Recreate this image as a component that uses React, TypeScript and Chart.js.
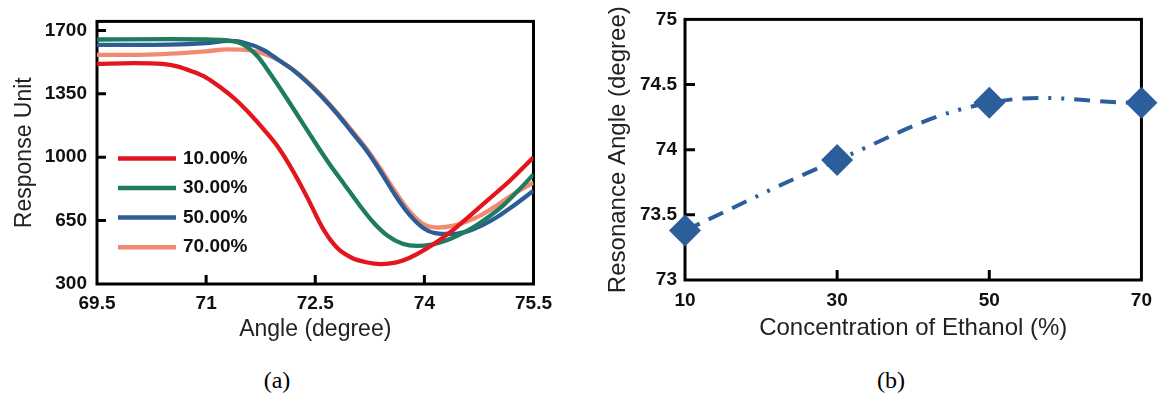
import React, { useEffect, useRef } from 'react';
import { Chart, registerables } from 'chart.js';

Chart.register(...registerables);

// ---------- Panel (a): SPR response curves ----------
const angleTicks = [69.5, 71, 72.5, 74, 75.5];
const responseTicks = [300, 650, 1000, 1350, 1700];
const seriesLabels = ['10.00%', '30.00%', '50.00%', '70.00%'];
const seriesColors = ['#E3161D', '#1F7C5E', '#2E5D95', '#F08B72'];

const angles10 = [69.5, 70.0, 70.4, 70.6, 70.8, 71.0, 71.2, 71.4, 71.6, 71.8, 72.0, 72.2, 72.4, 72.6, 72.8, 73.0, 73.2, 73.4, 73.6, 73.8, 74.0, 74.2, 74.4, 74.6, 74.8, 75.0, 75.2, 75.5];
const response10 = [1515, 1520, 1515, 1502, 1475, 1440, 1385, 1320, 1240, 1150, 1050, 920, 770, 610, 500, 445, 420, 410, 418, 445, 488, 540, 600, 668, 738, 808, 880, 1000];

const angles30 = [69.5, 70.5, 71.0, 71.3, 71.5, 71.7, 71.9, 72.1, 72.3, 72.5, 72.7, 72.9, 73.1, 73.3, 73.5, 73.7, 73.9, 74.1, 74.3, 74.5, 74.7, 74.9, 75.1, 75.3, 75.5];
const response30 = [1650, 1652, 1650, 1645, 1625, 1560, 1450, 1330, 1205, 1080, 960, 850, 740, 640, 565, 522, 510, 518, 540, 575, 620, 675, 740, 820, 905];

const angles50 = [69.5, 70.5, 71.0, 71.3, 71.5, 71.8, 72.0, 72.2, 72.4, 72.6, 72.8, 73.0, 73.2, 73.4, 73.6, 73.8, 74.0, 74.2, 74.4, 74.6, 74.8, 75.0, 75.2, 75.5];
const response50 = [1620, 1622, 1630, 1642, 1635, 1590, 1535, 1480, 1410, 1330, 1240, 1140, 1040, 920, 790, 680, 605, 578, 576, 592, 625, 670, 725, 815];

const angles70 = [69.5, 70.0, 70.5, 71.0, 71.3, 71.6, 71.8, 72.0, 72.2, 72.4, 72.6, 72.8, 73.0, 73.2, 73.4, 73.6, 73.8, 74.0, 74.2, 74.4, 74.6, 74.8, 75.0, 75.2, 75.5];
const response70 = [1565, 1565, 1572, 1585, 1595, 1590, 1570, 1535, 1482, 1415, 1335, 1245, 1150, 1050, 935, 810, 700, 628, 612, 622, 648, 685, 735, 790, 860];

// ---------- Panel (b): resonance angle vs concentration ----------
const concentrations = [10, 30, 50, 70];
const resonanceAngles = [73.38, 73.92, 74.36, 74.36];
const concentrationTicks = [10, 30, 50, 70];
const resonanceTicks = [73, 73.5, 74, 74.5, 75];

const TICK_FONT = '"Liberation Sans", Arial, sans-serif';
const TITLE_FONT = '"Liberation Sans", Arial, sans-serif';

function toPoints(xs: number[], ys: number[]) {
  return xs.map((x, i) => ({ x, y: ys[i] }));
}

function frameTicksPlugin(xTicks: number[], yTicks: number[], tickLen: number) {
  return {
    id: 'frameTicks',
    beforeDatasetsDraw(chart: any) {
      const { ctx, chartArea: a, scales } = chart;
      ctx.save();
      ctx.strokeStyle = '#000';
      ctx.lineWidth = 3;
      ctx.strokeRect(a.left, a.top, a.right - a.left, a.bottom - a.top);
      ctx.beginPath();
      for (const v of xTicks) {
        const px = scales.x.getPixelForValue(v);
        if (px > a.left + 3 && px < a.right - 3) {
          ctx.moveTo(px, a.bottom);
          ctx.lineTo(px, a.bottom - tickLen);
        }
      }
      for (const v of yTicks) {
        const py = scales.y.getPixelForValue(v);
        if (py > a.top + 3 && py < a.bottom - 3) {
          ctx.moveTo(a.left, py);
          ctx.lineTo(a.left + tickLen, py);
        }
      }
      ctx.stroke();
      ctx.restore();
    },
  };
}

const insideLegendPlugin = {
  id: 'insideLegend',
  afterDatasetsDraw(chart: any) {
    const { ctx, chartArea: a } = chart;
    ctx.save();
    chart.data.datasets.forEach((ds: any, i: number) => {
      const y = a.top + 137 + i * 29.6;
      const x0 = a.left + 21;
      ctx.strokeStyle = ds.borderColor;
      ctx.lineWidth = 4.5;
      ctx.beginPath();
      ctx.moveTo(x0, y);
      ctx.lineTo(x0 + 58, y);
      ctx.stroke();
      ctx.fillStyle = '#111';
      ctx.font = `bold 19px ${TICK_FONT}`;
      ctx.textBaseline = 'middle';
      ctx.textAlign = 'left';
      ctx.fillText(ds.label, x0 + 65, y);
    });
    ctx.restore();
  },
};

function tickCfg(padding: number) {
  return {
    padding,
    color: '#111',
    font: { family: TICK_FONT, size: 19, weight: 'bold' as const },
    callback: (v: any) => String(v),
    maxRotation: 0,
    autoSkip: false,
  };
}

const hiddenGrid = { display: false, drawTicks: false, tickLength: 0 };

function SprChart() {
  const ref = useRef<HTMLCanvasElement | null>(null);
  useEffect(() => {
    if (!ref.current) return;
    const series = [
      [angles10, response10],
      [angles30, response30],
      [angles50, response50],
      [angles70, response70],
    ];
    const chart = new Chart(ref.current, {
      type: 'line',
      data: {
        datasets: series.map(([xs, ys], i) => ({
          label: seriesLabels[i],
          data: toPoints(xs, ys),
          borderColor: seriesColors[i],
          backgroundColor: seriesColors[i],
          borderWidth: 4.3,
          pointRadius: 0,
          cubicInterpolationMode: 'monotone' as const,
          fill: false,
        })),
      },
      options: {
        responsive: false,
        animation: false,
        layout: { padding: { top: 16, right: 25, left: 0, bottom: 0 } },
        plugins: { legend: { display: false }, tooltip: { enabled: false } },
        scales: {
          x: {
            type: 'linear',
            min: 69.5,
            max: 75.5,
            grid: hiddenGrid,
            border: { display: false },
            afterBuildTicks: (s: any) => { s.ticks = angleTicks.map((v) => ({ value: v })); },
            afterFit: (s: any) => { s.height = 61; },
            ticks: tickCfg(8),
            title: { display: true, text: 'Angle (degree)', color: '#222', font: { family: TITLE_FONT, size: 23 }, padding: { top: 0, bottom: 2 } },
          },
          y: {
            type: 'linear',
            min: 300,
            max: 1750,
            grid: hiddenGrid,
            border: { display: false },
            afterBuildTicks: (s: any) => { s.ticks = responseTicks.map((v) => ({ value: v })); },
            afterFit: (s: any) => { s.width = 97; },
            ticks: tickCfg(10),
            title: { display: true, text: 'Response Unit', color: '#222', font: { family: TITLE_FONT, size: 23 }, padding: { top: 11, bottom: 0 } },
          },
        },
      },
      plugins: [frameTicksPlugin(angleTicks, responseTicks, 9), insideLegendPlugin],
    } as any);
    return () => chart.destroy();
  }, []);
  return <canvas ref={ref} width={560} height={345} style={{ position: 'absolute', left: 0, top: 0, display: 'block' }} />;
}

function ResonanceChart() {
  const ref = useRef<HTMLCanvasElement | null>(null);
  useEffect(() => {
    if (!ref.current) return;
    const color = '#2C5E9C';
    const chart = new Chart(ref.current, {
      type: 'line',
      data: {
        datasets: [
          {
            label: 'Resonance Angle',
            data: toPoints(concentrations, resonanceAngles),
            borderColor: color,
            backgroundColor: color,
            borderWidth: 4,
            borderDash: [16, 10, 16, 10, 16, 10, 3, 10, 3, 10],
            tension: 0.4,
            pointStyle: 'rectRot',
            pointRadius: 16,
            pointBorderWidth: 0,
            pointBackgroundColor: color,
            clip: false,
            fill: false,
          },
        ],
      },
      options: {
        responsive: false,
        animation: false,
        layout: { padding: { top: 17, right: 14, left: 0, bottom: 0 } },
        plugins: { legend: { display: false }, tooltip: { enabled: false } },
        scales: {
          x: {
            type: 'linear',
            min: 10,
            max: 70,
            grid: hiddenGrid,
            border: { display: false },
            afterBuildTicks: (s: any) => { s.ticks = concentrationTicks.map((v) => ({ value: v })); },
            afterFit: (s: any) => { s.height = 65; },
            ticks: tickCfg(9),
            title: { display: true, text: 'Concentration of Ethanol (%)', color: '#222', font: { family: TITLE_FONT, size: 24 }, padding: { top: 0, bottom: 2 } },
          },
          y: {
            type: 'linear',
            min: 73,
            max: 75,
            grid: hiddenGrid,
            border: { display: false },
            afterBuildTicks: (s: any) => { s.ticks = resonanceTicks.map((v) => ({ value: v })); },
            afterFit: (s: any) => { s.width = 105; },
            ticks: tickCfg(8),
            title: { display: true, text: 'Resonance Angle (degree)', color: '#222', font: { family: TITLE_FONT, size: 24 }, padding: { top: 24, bottom: 0 } },
          },
        },
      },
      plugins: [frameTicksPlugin(concentrationTicks, resonanceTicks, 10)],
    } as any);
    return () => chart.destroy();
  }, []);
  return <canvas ref={ref} width={581} height={345} style={{ position: 'absolute', left: 580, top: 0, display: 'block' }} />;
}

const captionStyle: React.CSSProperties = {
  position: 'absolute',
  top: 380,
  transform: 'translate(-50%, -50%)',
  fontFamily: '"Liberation Serif", "Times New Roman", serif',
  fontSize: 24,
  color: '#000',
  whiteSpace: 'nowrap',
};

export default function App() {
  return (
    <div style={{ position: 'absolute', left: 0, top: 0, width: 1161, height: 394, background: '#fff', overflow: 'hidden' }}>
      <SprChart />
      <ResonanceChart />
      <div style={{ ...captionStyle, left: 277 }}>(a)</div>
      <div style={{ ...captionStyle, left: 891 }}>(b)</div>
    </div>
  );
}
